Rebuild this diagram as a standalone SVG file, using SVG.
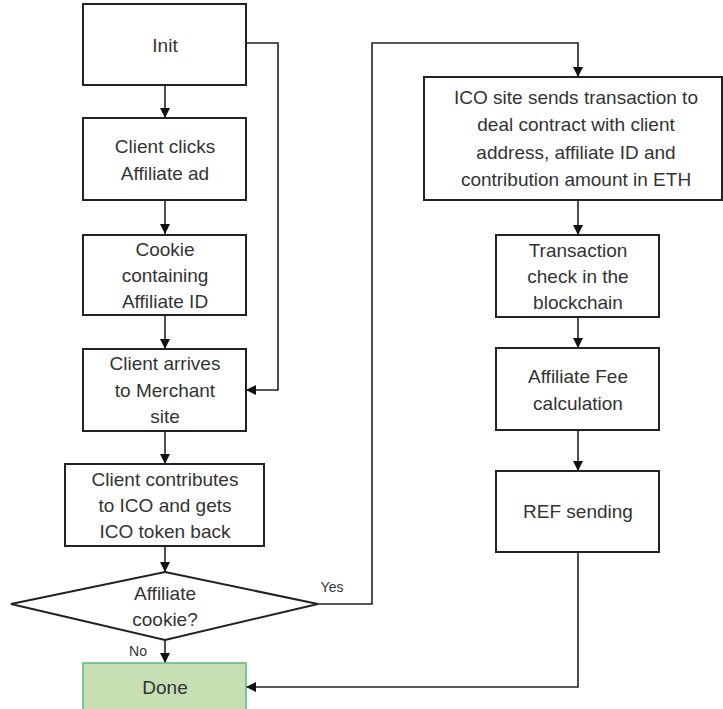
<svg xmlns="http://www.w3.org/2000/svg" width="723" height="709" viewBox="0 0 723 709">
<style>
.box{fill:#fff;stroke:#222;stroke-width:2}
.done{fill:#c6e0b4;stroke:#5cb87a;stroke-width:1.5}
.t{font-family:"Liberation Sans",Arial,sans-serif;font-size:19px;fill:#333;text-anchor:middle}
.s{font-family:"Liberation Sans",Arial,sans-serif;font-size:14px;fill:#333;text-anchor:middle}
.c{fill:none;stroke:#222;stroke-width:1.6}
</style>
<defs>
<marker id="ah" viewBox="0 0 10 10" refX="10" refY="5" markerWidth="10" markerHeight="10" markerUnits="userSpaceOnUse" orient="auto">
<path d="M0,0 L10,5 L0,10 z" fill="#111"/>
</marker>
</defs>
<rect width="723" height="709" fill="#fff"/>
<g id="connectors">
<path class="c" d="M165,85 V118" marker-end="url(#ah)"/>
<path class="c" d="M165,200 V234" marker-end="url(#ah)"/>
<path class="c" d="M165,315 V349" marker-end="url(#ah)"/>
<path class="c" d="M246,43 H278 V390 H246" marker-end="url(#ah)"/>
<path class="c" d="M165,431 V464" marker-end="url(#ah)"/>
<path class="c" d="M165,546 V572" marker-end="url(#ah)"/>
<path class="c" d="M165,640 V663" marker-end="url(#ah)"/>
<path class="c" d="M318,604 H372 V43 H578 V77" marker-end="url(#ah)"/>
<path class="c" d="M578,200 V235" marker-end="url(#ah)"/>
<path class="c" d="M578,317 V348" marker-end="url(#ah)"/>
<path class="c" d="M578,430 V471" marker-end="url(#ah)"/>
<path class="c" d="M578,552 V687 H246" marker-end="url(#ah)"/>
<text class="s" x="138" y="656">No</text>
<text class="s" x="332" y="592">Yes</text>
</g>
<g id="init">
<rect class="box" x="83" y="4" width="163" height="81"/>
<text class="t" x="165" y="52">Init</text>
</g>
<g id="clicks">
<rect class="box" x="83" y="118" width="163" height="82"/>
<text class="t" x="165" y="153">Client clicks</text>
<text class="t" x="165" y="180">Affiliate ad</text>
</g>
<g id="cookie">
<rect class="box" x="83" y="235" width="163" height="80"/>
<text class="t" x="165" y="256">Cookie</text>
<text class="t" x="165" y="282">containing</text>
<text class="t" x="165" y="308">Affiliate ID</text>
</g>
<g id="arrives">
<rect class="box" x="83" y="349" width="163" height="82"/>
<text class="t" x="165" y="370">Client arrives</text>
<text class="t" x="165" y="397">to Merchant</text>
<text class="t" x="165" y="423">site</text>
</g>
<g id="contributes">
<rect class="box" x="65" y="464" width="199" height="82"/>
<text class="t" x="165" y="486">Client contributes</text>
<text class="t" x="165" y="512">to ICO and gets</text>
<text class="t" x="165" y="538">ICO token back</text>
</g>
<g id="decision">
<polygon class="box" points="165,572 318,604 165,640 11,604"/>
<text class="t" x="165" y="600">Affiliate</text>
<text class="t" x="165" y="626">cookie?</text>
</g>
<g id="done">
<rect class="done" x="83" y="663" width="163" height="50"/>
<text class="t" x="165" y="694">Done</text>
</g>
<g id="icosite">
<rect class="box" x="424" y="77" width="298" height="123"/>
<text class="t" x="576" y="104">ICO site sends transaction to</text>
<text class="t" x="576" y="131">deal contract  with client</text>
<text class="t" x="576" y="159">address, affiliate ID and</text>
<text class="t" x="576" y="186">contribution  amount  in ETH</text>
</g>
<g id="txcheck">
<rect class="box" x="496" y="235" width="163" height="82"/>
<text class="t" x="578" y="257">Transaction</text>
<text class="t" x="578" y="283">check in the</text>
<text class="t" x="578" y="309">blockchain</text>
</g>
<g id="fee">
<rect class="box" x="496" y="348" width="163" height="82"/>
<text class="t" x="578" y="383">Affiliate Fee</text>
<text class="t" x="578" y="410">calculation</text>
</g>
<g id="ref">
<rect class="box" x="496" y="471" width="163" height="81"/>
<text class="t" x="578" y="518">REF sending</text>
</g>
</svg>
